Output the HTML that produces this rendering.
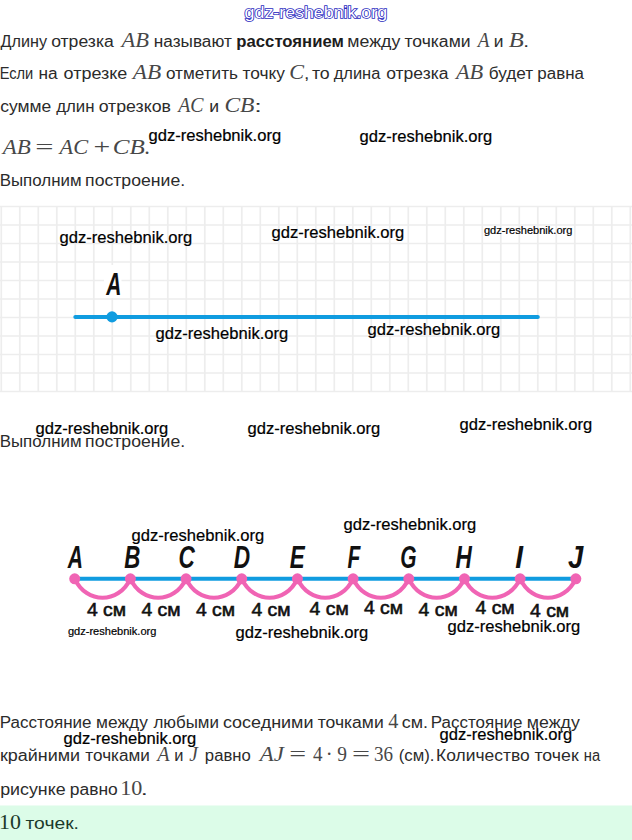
<!DOCTYPE html>
<html lang="ru"><head><meta charset="utf-8"><title>Расстояние между точками</title>
<style>html,body{margin:0;padding:0;background:#fff;}body{width:632px;height:840px;overflow:hidden;}svg{display:block;}</style>
</head><body>
<svg width="632" height="840" viewBox="0 0 632 840" font-family='"Liberation Sans", Arial, sans-serif' fill="#2b2b2b"><rect x="0" y="805.5" width="632" height="34.5" fill="#dcfce8"/><path d="M1.30 206.5V391.50M19.80 206.5V391.50M38.30 206.5V391.50M56.80 206.5V391.50M75.30 206.5V391.50M93.80 206.5V391.50M112.30 206.5V391.50M130.80 206.5V391.50M149.30 206.5V391.50M167.80 206.5V391.50M186.30 206.5V391.50M204.80 206.5V391.50M223.30 206.5V391.50M241.80 206.5V391.50M260.30 206.5V391.50M278.80 206.5V391.50M297.30 206.5V391.50M315.80 206.5V391.50M334.30 206.5V391.50M352.80 206.5V391.50M371.30 206.5V391.50M389.80 206.5V391.50M408.30 206.5V391.50M426.80 206.5V391.50M445.30 206.5V391.50M463.80 206.5V391.50M482.30 206.5V391.50M500.80 206.5V391.50M519.30 206.5V391.50M537.80 206.5V391.50M556.30 206.5V391.50M574.80 206.5V391.50M593.30 206.5V391.50M611.80 206.5V391.50M630.30 206.5V391.50M0 206.50H632M0 225.00H632M0 243.50H632M0 262.00H632M0 280.50H632M0 299.00H632M0 317.50H632M0 336.00H632M0 354.50H632M0 373.00H632M0 391.50H632" stroke="#ededed" stroke-width="1.7" fill="none"/><rect x="104" y="265" width="17.5" height="33" fill="#fff"/><line x1="75.3" y1="316.9" x2="537.8" y2="316.9" stroke="#109ce0" stroke-width="4" stroke-linecap="round"/><circle cx="112.0" cy="316.9" r="5.6" fill="#109ce0"/><line x1="74.70" y1="578.8" x2="575.82" y2="578.8" stroke="#109ce0" stroke-width="3.9"/><path d="M74.70 578.8C86.70 604.10 118.38 604.10 130.38 578.8M130.38 578.8C142.38 604.10 174.06 604.10 186.06 578.8M186.06 578.8C198.06 604.10 229.74 604.10 241.74 578.8M241.74 578.8C253.74 604.10 285.42 604.10 297.42 578.8M297.42 578.8C309.42 604.10 341.10 604.10 353.10 578.8M353.10 578.8C365.10 604.10 396.78 604.10 408.78 578.8M408.78 578.8C420.78 604.10 452.46 604.10 464.46 578.8M464.46 578.8C476.46 604.10 508.14 604.10 520.14 578.8M520.14 578.8C532.14 604.10 563.82 604.10 575.82 578.8" fill="none" stroke="#f064b4" stroke-width="4.2"/><circle cx="74.70" cy="578.8" r="5.5" fill="#f064b4"/><circle cx="130.38" cy="578.8" r="5.5" fill="#f064b4"/><circle cx="186.06" cy="578.8" r="5.5" fill="#f064b4"/><circle cx="241.74" cy="578.8" r="5.5" fill="#f064b4"/><circle cx="297.42" cy="578.8" r="5.5" fill="#f064b4"/><circle cx="353.10" cy="578.8" r="5.5" fill="#f064b4"/><circle cx="408.78" cy="578.8" r="5.5" fill="#f064b4"/><circle cx="464.46" cy="578.8" r="5.5" fill="#f064b4"/><circle cx="520.14" cy="578.8" r="5.5" fill="#f064b4"/><circle cx="575.82" cy="578.8" r="5.5" fill="#f064b4"/>
<text x="0.50" y="46.50" font-size="15.6" textLength="46.50" lengthAdjust="spacingAndGlyphs">Длину</text>
<text x="51.15" y="46.50" font-size="15.6" textLength="62.64" lengthAdjust="spacingAndGlyphs">отрезка</text>
<text x="121.41" y="46.50" font-size="20" font-family='"Liberation Serif", serif' font-style="italic" fill="#474747" textLength="27.48" lengthAdjust="spacingAndGlyphs">AB</text>
<text x="153.83" y="46.50" font-size="15.6" textLength="77.96" lengthAdjust="spacingAndGlyphs">называют</text>
<text x="236.36" y="46.50" font-size="15.6" font-weight="700" fill="#1c1c1c" textLength="107.48" lengthAdjust="spacingAndGlyphs">расстоянием</text>
<text x="347.29" y="46.50" font-size="15.6" textLength="53.01" lengthAdjust="spacingAndGlyphs">между</text>
<text x="404.43" y="46.50" font-size="15.6" textLength="66.10" lengthAdjust="spacingAndGlyphs">точками</text>
<text x="477.70" y="46.50" font-size="20" font-family='"Liberation Serif", serif' font-style="italic" fill="#474747" textLength="11.73" lengthAdjust="spacingAndGlyphs">A</text>
<text x="493.71" y="46.50" font-size="15.6" textLength="9.70" lengthAdjust="spacingAndGlyphs">и</text>
<text x="508.70" y="46.50" font-size="20" font-family='"Liberation Serif", serif' font-style="italic" fill="#474747" textLength="15.02" lengthAdjust="spacingAndGlyphs">B</text>
<text x="523.36" y="46.50" font-size="15.6" textLength="5.84" lengthAdjust="spacingAndGlyphs">.</text>
<text x="-0.34" y="78.80" font-size="15.6" textLength="33.60" lengthAdjust="spacingAndGlyphs">Если</text>
<text x="38.52" y="78.80" font-size="15.6" textLength="19.17" lengthAdjust="spacingAndGlyphs">на</text>
<text x="63.54" y="78.80" font-size="15.6" textLength="63.79" lengthAdjust="spacingAndGlyphs">отрезке</text>
<text x="132.76" y="78.80" font-size="20" font-family='"Liberation Serif", serif' font-style="italic" fill="#474747" textLength="28.44" lengthAdjust="spacingAndGlyphs">AB</text>
<text x="165.96" y="78.80" font-size="15.6" textLength="71.96" lengthAdjust="spacingAndGlyphs">отметить</text>
<text x="242.53" y="78.80" font-size="15.6" textLength="42.47" lengthAdjust="spacingAndGlyphs">точку</text>
<text x="289.16" y="78.80" font-size="20" font-family='"Liberation Serif", serif' font-style="italic" fill="#474747" textLength="14.78" lengthAdjust="spacingAndGlyphs">C</text>
<text x="304.10" y="78.80" font-size="15.6" textLength="5.33" lengthAdjust="spacingAndGlyphs">,</text>
<text x="311.92" y="78.80" font-size="15.6" textLength="17.80" lengthAdjust="spacingAndGlyphs">то</text>
<text x="333.70" y="78.80" font-size="15.6" textLength="46.70" lengthAdjust="spacingAndGlyphs">длина</text>
<text x="386.25" y="78.80" font-size="15.6" textLength="62.24" lengthAdjust="spacingAndGlyphs">отрезка</text>
<text x="455.90" y="78.80" font-size="20" font-family='"Liberation Serif", serif' font-style="italic" fill="#474747" textLength="27.29" lengthAdjust="spacingAndGlyphs">AB</text>
<text x="488.69" y="78.80" font-size="15.6" textLength="44.39" lengthAdjust="spacingAndGlyphs">будет</text>
<text x="537.34" y="78.80" font-size="15.6" textLength="46.65" lengthAdjust="spacingAndGlyphs">равна</text>
<text x="0.25" y="111.50" font-size="15.6" textLength="51.06" lengthAdjust="spacingAndGlyphs">сумме</text>
<text x="56.20" y="111.50" font-size="15.6" textLength="38.34" lengthAdjust="spacingAndGlyphs">длин</text>
<text x="98.65" y="111.50" font-size="15.6" textLength="72.31" lengthAdjust="spacingAndGlyphs">отрезков</text>
<text x="178.24" y="111.50" font-size="20" font-family='"Liberation Serif", serif' font-style="italic" fill="#474747" textLength="25.35" lengthAdjust="spacingAndGlyphs">AC</text>
<text x="209.20" y="111.50" font-size="15.6" textLength="9.83" lengthAdjust="spacingAndGlyphs">и</text>
<text x="224.40" y="111.50" font-size="20" font-family='"Liberation Serif", serif' font-style="italic" fill="#474747" textLength="30.00" lengthAdjust="spacingAndGlyphs">CB</text>
<text x="254.36" y="111.50" font-size="15.6" textLength="7.62" lengthAdjust="spacingAndGlyphs">:</text>
<text x="2.74" y="153.80" font-size="20" font-family='"Liberation Serif", serif' font-style="italic" fill="#474747" textLength="28.06" lengthAdjust="spacingAndGlyphs">AB</text>
<text x="35.18" y="153.80" font-size="20" font-family='"Liberation Serif", serif' fill="#474747" textLength="18.29" lengthAdjust="spacingAndGlyphs">=</text>
<text x="59.60" y="153.80" font-size="20" font-family='"Liberation Serif", serif' font-style="italic" fill="#474747" textLength="28.55" lengthAdjust="spacingAndGlyphs">AC</text>
<text x="93.61" y="153.80" font-size="20" font-family='"Liberation Serif", serif' fill="#474747" textLength="16.72" lengthAdjust="spacingAndGlyphs">+</text>
<text x="112.73" y="153.80" font-size="20" font-family='"Liberation Serif", serif' font-style="italic" fill="#474747" textLength="32.00" lengthAdjust="spacingAndGlyphs">CB</text>
<text x="144.20" y="153.80" font-size="20" font-family='"Liberation Serif", serif' fill="#474747" textLength="5.60" lengthAdjust="spacingAndGlyphs">.</text>
<text x="-0.32" y="185.60" font-size="15.6" textLength="81.88" lengthAdjust="spacingAndGlyphs">Выполним</text>
<text x="85.10" y="185.60" font-size="15.6" textLength="100.00" lengthAdjust="spacingAndGlyphs">построение.</text>
<text x="-0.32" y="447.30" font-size="15.6" textLength="81.88" lengthAdjust="spacingAndGlyphs">Выполним</text>
<text x="85.10" y="447.30" font-size="15.6" textLength="100.00" lengthAdjust="spacingAndGlyphs">построение.</text>
<text x="-0.33" y="727.80" font-size="15.6" textLength="91.92" lengthAdjust="spacingAndGlyphs">Расстояние</text>
<text x="96.12" y="727.80" font-size="15.6" textLength="51.68" lengthAdjust="spacingAndGlyphs">между</text>
<text x="153.40" y="727.80" font-size="15.6" textLength="65.59" lengthAdjust="spacingAndGlyphs">любыми</text>
<text x="222.94" y="727.80" font-size="15.6" textLength="90.51" lengthAdjust="spacingAndGlyphs">соседними</text>
<text x="317.73" y="727.80" font-size="15.6" textLength="66.00" lengthAdjust="spacingAndGlyphs">точками</text>
<text x="388.18" y="727.80" font-size="20" font-family='"Liberation Serif", serif' fill="#474747" textLength="10.13" lengthAdjust="spacingAndGlyphs">4</text>
<text x="401.84" y="727.80" font-size="15.6" textLength="26.28" lengthAdjust="spacingAndGlyphs">см.</text>
<text x="430.87" y="727.80" font-size="15.6" textLength="91.61" lengthAdjust="spacingAndGlyphs">Расстояние</text>
<text x="526.89" y="727.80" font-size="15.6" textLength="52.91" lengthAdjust="spacingAndGlyphs">между</text>
<text x="-0.12" y="761.00" font-size="15.6" textLength="80.17" lengthAdjust="spacingAndGlyphs">крайними</text>
<text x="85.33" y="761.00" font-size="15.6" textLength="64.57" lengthAdjust="spacingAndGlyphs">точками</text>
<text x="157.26" y="761.00" font-size="20" font-family='"Liberation Serif", serif' font-style="italic" fill="#474747" textLength="12.35" lengthAdjust="spacingAndGlyphs">A</text>
<text x="174.37" y="761.00" font-size="15.6" textLength="9.19" lengthAdjust="spacingAndGlyphs">и</text>
<text x="189.30" y="761.00" font-size="20" font-family='"Liberation Serif", serif' font-style="italic" fill="#474747" textLength="8.61" lengthAdjust="spacingAndGlyphs">J</text>
<text x="204.86" y="761.00" font-size="15.6" textLength="45.92" lengthAdjust="spacingAndGlyphs">равно</text>
<text x="259.83" y="761.00" font-size="20" font-family='"Liberation Serif", serif' font-style="italic" fill="#474747" textLength="24.14" lengthAdjust="spacingAndGlyphs">AJ</text>
<text x="289.20" y="761.00" font-size="20" font-family='"Liberation Serif", serif' fill="#474747" textLength="16.84" lengthAdjust="spacingAndGlyphs">=</text>
<text x="312.90" y="761.00" font-size="20" font-family='"Liberation Serif", serif' fill="#474747" textLength="9.49" lengthAdjust="spacingAndGlyphs">4</text>
<text x="325.87" y="761.00" font-size="20" font-family='"Liberation Serif", serif' fill="#474747" textLength="6.87" lengthAdjust="spacingAndGlyphs">·</text>
<text x="337.19" y="761.00" font-size="20" font-family='"Liberation Serif", serif' fill="#474747" textLength="9.71" lengthAdjust="spacingAndGlyphs">9</text>
<text x="351.90" y="761.00" font-size="20" font-family='"Liberation Serif", serif' fill="#474747" textLength="18.05" lengthAdjust="spacingAndGlyphs">=</text>
<text x="373.91" y="761.00" font-size="20" font-family='"Liberation Serif", serif' fill="#474747" textLength="18.99" lengthAdjust="spacingAndGlyphs">36</text>
<text x="398.71" y="761.00" font-size="15.6" textLength="35.80" lengthAdjust="spacingAndGlyphs">(см).</text>
<text x="436.14" y="761.00" font-size="15.6" textLength="93.57" lengthAdjust="spacingAndGlyphs">Количество</text>
<text x="534.42" y="761.00" font-size="15.6" textLength="44.30" lengthAdjust="spacingAndGlyphs">точек</text>
<text x="583.78" y="761.00" font-size="15.6" textLength="16.33" lengthAdjust="spacingAndGlyphs">на</text>
<text x="0.19" y="794.80" font-size="15.6" textLength="65.44" lengthAdjust="spacingAndGlyphs">рисунке</text>
<text x="69.81" y="794.80" font-size="15.6" textLength="48.00" lengthAdjust="spacingAndGlyphs">равно</text>
<text x="120.17" y="794.80" font-size="20" font-family='"Liberation Serif", serif' fill="#474747" textLength="22.12" lengthAdjust="spacingAndGlyphs">10</text>
<text x="140.80" y="794.80" font-size="15.6" textLength="7.11" lengthAdjust="spacingAndGlyphs">.</text>
<text x="-0.91" y="828.50" font-size="20" font-family='"Liberation Serif", serif' fill="#1b3a2b" textLength="21.89" lengthAdjust="spacingAndGlyphs">10</text>
<text x="25.50" y="828.50" font-size="16.2" fill="#1b3a2b" textLength="53.44" lengthAdjust="spacingAndGlyphs">точек.</text>
<text x="106.25" y="294.70" font-size="30.5" font-style="italic" font-weight="700" fill="#111" textLength="15.13" lengthAdjust="spacingAndGlyphs">A</text>
<text x="67.66" y="568.20" font-size="30.5" font-style="italic" font-weight="700" fill="#111" textLength="15.23" lengthAdjust="spacingAndGlyphs">A</text>
<text x="124.25" y="568.20" font-size="30.5" font-style="italic" font-weight="700" fill="#111" textLength="16.12" lengthAdjust="spacingAndGlyphs">B</text>
<text x="178.44" y="568.20" font-size="30.5" font-style="italic" font-weight="700" fill="#111" textLength="16.28" lengthAdjust="spacingAndGlyphs">C</text>
<text x="233.65" y="568.20" font-size="30.5" font-style="italic" font-weight="700" fill="#111" textLength="16.39" lengthAdjust="spacingAndGlyphs">D</text>
<text x="289.65" y="568.20" font-size="30.5" font-style="italic" font-weight="700" fill="#111" textLength="14.94" lengthAdjust="spacingAndGlyphs">E</text>
<text x="347.47" y="568.20" font-size="30.5" font-style="italic" font-weight="700" fill="#111" textLength="12.80" lengthAdjust="spacingAndGlyphs">F</text>
<text x="400.32" y="568.20" font-size="30.5" font-style="italic" font-weight="700" fill="#111" textLength="16.26" lengthAdjust="spacingAndGlyphs">G</text>
<text x="455.55" y="568.20" font-size="30.5" font-style="italic" font-weight="700" fill="#111" textLength="16.32" lengthAdjust="spacingAndGlyphs">H</text>
<text x="515.36" y="568.20" font-size="30.5" font-style="italic" font-weight="700" fill="#111" textLength="7.80" lengthAdjust="spacingAndGlyphs">I</text>
<text x="568.00" y="568.20" font-size="30.5" font-style="italic" font-weight="700" fill="#111" textLength="15.30" lengthAdjust="spacingAndGlyphs">J</text>
<text x="86.90" y="615.60" font-size="17.8" fill="#111" textLength="39.11" lengthAdjust="spacingAndGlyphs" stroke="#111" stroke-width="0.55">4 см</text>
<text x="141.40" y="615.60" font-size="17.8" fill="#111" textLength="39.11" lengthAdjust="spacingAndGlyphs" stroke="#111" stroke-width="0.55">4 см</text>
<text x="195.90" y="615.60" font-size="17.8" fill="#111" textLength="39.11" lengthAdjust="spacingAndGlyphs" stroke="#111" stroke-width="0.55">4 см</text>
<text x="251.40" y="615.60" font-size="17.8" fill="#111" textLength="39.11" lengthAdjust="spacingAndGlyphs" stroke="#111" stroke-width="0.55">4 см</text>
<text x="309.60" y="615.30" font-size="17.8" fill="#111" textLength="39.11" lengthAdjust="spacingAndGlyphs" stroke="#111" stroke-width="0.55">4 см</text>
<text x="363.90" y="613.80" font-size="17.8" fill="#111" textLength="39.11" lengthAdjust="spacingAndGlyphs" stroke="#111" stroke-width="0.55">4 см</text>
<text x="418.60" y="615.90" font-size="17.8" fill="#111" textLength="39.11" lengthAdjust="spacingAndGlyphs" stroke="#111" stroke-width="0.55">4 см</text>
<text x="475.50" y="614.40" font-size="17.8" fill="#111" textLength="39.11" lengthAdjust="spacingAndGlyphs" stroke="#111" stroke-width="0.55">4 см</text>
<text x="530.00" y="616.60" font-size="17.8" fill="#111" textLength="39.11" lengthAdjust="spacingAndGlyphs" stroke="#111" stroke-width="0.55">4 см</text>
<text x="148.48" y="141.30" font-size="16.2" fill="#000" textLength="132.65" lengthAdjust="spacingAndGlyphs" stroke="#000" stroke-width="0.2">gdz-reshebnik.org</text>
<text x="359.58" y="141.60" font-size="16.2" fill="#000" textLength="132.65" lengthAdjust="spacingAndGlyphs" stroke="#000" stroke-width="0.2">gdz-reshebnik.org</text>
<text x="59.58" y="242.80" font-size="16.2" fill="#000" textLength="132.65" lengthAdjust="spacingAndGlyphs" stroke="#000" stroke-width="0.2">gdz-reshebnik.org</text>
<text x="271.58" y="238.00" font-size="16.2" fill="#000" textLength="132.65" lengthAdjust="spacingAndGlyphs" stroke="#000" stroke-width="0.2">gdz-reshebnik.org</text>
<text x="155.58" y="338.60" font-size="16.2" fill="#000" textLength="132.65" lengthAdjust="spacingAndGlyphs" stroke="#000" stroke-width="0.2">gdz-reshebnik.org</text>
<text x="367.58" y="334.60" font-size="16.2" fill="#000" textLength="132.65" lengthAdjust="spacingAndGlyphs" stroke="#000" stroke-width="0.2">gdz-reshebnik.org</text>
<text x="35.58" y="433.60" font-size="16.2" fill="#000" textLength="132.65" lengthAdjust="spacingAndGlyphs" stroke="#000" stroke-width="0.2">gdz-reshebnik.org</text>
<text x="247.58" y="434.20" font-size="16.2" fill="#000" textLength="132.65" lengthAdjust="spacingAndGlyphs" stroke="#000" stroke-width="0.2">gdz-reshebnik.org</text>
<text x="459.58" y="430.00" font-size="16.2" fill="#000" textLength="132.65" lengthAdjust="spacingAndGlyphs" stroke="#000" stroke-width="0.2">gdz-reshebnik.org</text>
<text x="131.58" y="540.80" font-size="16.2" fill="#000" textLength="132.65" lengthAdjust="spacingAndGlyphs" stroke="#000" stroke-width="0.2">gdz-reshebnik.org</text>
<text x="343.58" y="530.30" font-size="16.2" fill="#000" textLength="132.65" lengthAdjust="spacingAndGlyphs" stroke="#000" stroke-width="0.2">gdz-reshebnik.org</text>
<text x="235.58" y="637.50" font-size="16.2" fill="#000" textLength="132.65" lengthAdjust="spacingAndGlyphs" stroke="#000" stroke-width="0.2">gdz-reshebnik.org</text>
<text x="447.58" y="632.30" font-size="16.2" fill="#000" textLength="132.65" lengthAdjust="spacingAndGlyphs" stroke="#000" stroke-width="0.2">gdz-reshebnik.org</text>
<text x="63.58" y="744.30" font-size="16.2" fill="#000" textLength="132.65" lengthAdjust="spacingAndGlyphs" stroke="#000" stroke-width="0.2">gdz-reshebnik.org</text>
<text x="439.58" y="740.30" font-size="16.2" fill="#000" textLength="132.65" lengthAdjust="spacingAndGlyphs" stroke="#000" stroke-width="0.2">gdz-reshebnik.org</text>
<text x="483.94" y="233.70" font-size="10.8" fill="#000" textLength="88.43" lengthAdjust="spacingAndGlyphs" stroke="#000" stroke-width="0.2">gdz-reshebnik.org</text>
<text x="67.94" y="634.50" font-size="10.8" fill="#000" textLength="88.43" lengthAdjust="spacingAndGlyphs" stroke="#000" stroke-width="0.2">gdz-reshebnik.org</text><text x="244.6" y="18.4" font-size="16.5" fill="#fff" stroke="#2c2cc0" stroke-width="1.6" paint-order="stroke" textLength="142.5" lengthAdjust="spacingAndGlyphs">gdz-reshebnik.org</text></svg>
</body></html>
